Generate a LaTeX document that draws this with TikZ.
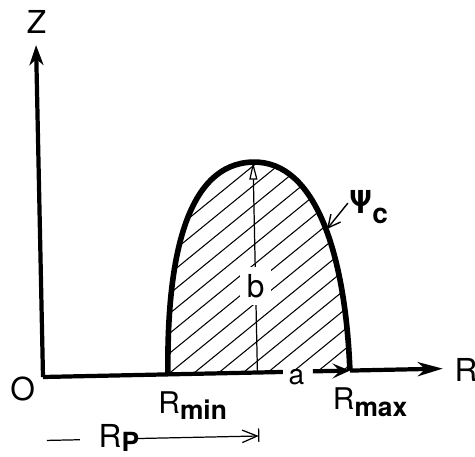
\documentclass[tikz,border=0pt]{standalone}
\usepackage{fontspec}
\setmainfont{TeX Gyre Heros}
\usetikzlibrary{arrows.meta}
\newcommand{\lsub}[3][3.5pt]{#2\raisebox{-#1}{\fontsize{15}{16}\selectfont\bfseries #3}}

\begin{document}
\begin{tikzpicture}[thick,
      axis/.style={line width=2.4pt},
      bound/.style={line width=3.2pt},
      hatch/.style={line width=0.6pt},
      big/.style={font=\fontsize{18}{20}\selectfont},
      mid/.style={font=\fontsize{17}{19}\selectfont}]
      \useasboundingbox (-0.86,-1.58) rectangle (8.64,7.54);
      \begin{scope}[rotate=1.2]
      \coordinate (O) at (0,0);
      \coordinate (Ztip) at (0,6.64);
      \coordinate (Rtip) at (8.0,0);
      \coordinate (Rmin) at (2.5,0);
      \coordinate (Rmax) at (6.14,0);
      \coordinate (C) at (4.29,0);
      \coordinate (Top) at (4.29,4.21);
      \coordinate (aL) at (4.8,0);
      \coordinate (aR) at (5.4,0);
      \coordinate (P0) at (0.05,-1.27);
      \coordinate (P1) at (0.71,-1.27);
      \coordinate (P2) at (1.86,-1.27);
      \coordinate (P3) at (4.29,-1.27);
      \coordinate (Psitail) at (6.17,3.35);
      \coordinate (Psitip) at (5.74,2.84);

      \begin{scope}
        \clip (Rmin) .. controls +(0.02,2.3) and +(-1.34,0) .. (Top)
              .. controls +(1.26,0) and +(-0.04,2.3) .. (Rmax) -- cycle;
        \foreach \k in {-7,...,13}
          \draw[hatch] (\k*0.5,0) -- ++(38:9);
      \end{scope}

      \draw[line width=0.7pt,-{Triangle[open,length=3.5mm,width=1.6mm]}] (C) -- (Top);
      \node[big,fill=white,inner sep=4pt] (b) at (4.29,1.73) {b};

      \draw[bound] (Rmin) .. controls +(0.02,2.3) and +(-1.34,0) .. (Top)
              .. controls +(1.26,0) and +(-0.04,2.3) .. (Rmax);

      \draw[axis,-{Stealth[length=4mm,width=2.8mm,inset=1.2mm]}] (O) -- (Ztip);
      \draw[axis] (O) -- (aL);
      \draw[axis,-{Stealth[length=3.5mm,width=3mm,inset=1.5mm]}] (aR) -- (Rmax);
      \draw[axis,-{Stealth[length=5mm,width=2.8mm,inset=1.5mm]}] (Rmax) -- (Rtip);

      \node[big] (z) at (0.02,7.1) {Z};
      \node[big] (o) at (-0.41,-0.24) {O};
      \node[big,anchor=west,inner sep=0pt] (r) at (8.22,-0.04) {R};
      \node[font=\fontsize{16}{18}\selectfont] (a) at (5.07,-0.1) {a};
      \node[mid,anchor=base west,inner sep=0pt] (rmin) at (2.28,-0.77) {\lsub{R}{min}};
      \node[mid,anchor=base west,inner sep=0pt] (rmax) at (5.77,-0.78) {\lsub[4pt]{R}{max}};
      \node[big,anchor=base west,inner sep=0pt] (rp) at (1.07,-1.44) {\lsub[2pt]{R}{P}};

      \draw[line width=0.7pt] (P0) -- (P1);
      \draw[line width=0.7pt,-{Straight Barb[length=3mm,width=2.5mm]}] (P2) -- (P3);
      \draw[line width=0.7pt] ([yshift=0.15cm]P3) -- ([yshift=-0.12cm]P3);

      \node[big,anchor=base west,inner sep=0pt] (psi) at (6.17,3.15)
        {\bfseries Ψ\raisebox{-5.7pt}{\fontsize{16}{18}\selectfont c}};
      \draw[line width=0.8pt,-{Straight Barb[length=2.5mm,width=2.5mm]}] (Psitail) -- (Psitip);
      \end{scope}
\end{tikzpicture}
\end{document}
